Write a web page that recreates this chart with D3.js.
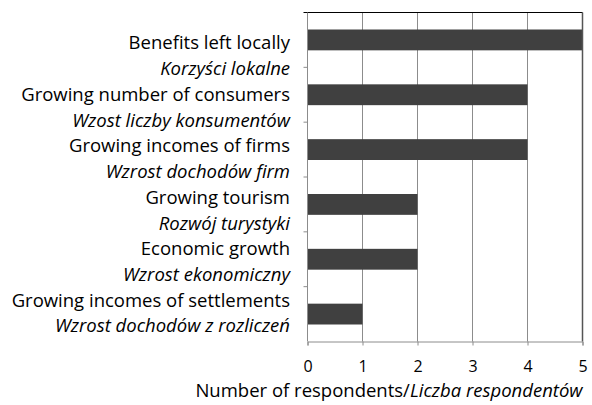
<!DOCTYPE html>
<html>
<head>
<meta charset="utf-8">
<script src="https://cdn.jsdelivr.net/npm/d3@7"></script>
<style>
  body { margin: 0; background: #fff; }
  svg text { font-family: "Open Sans", Lato, sans-serif; fill: #000; }
</style>
</head>
<body>
<div id="chart"></div>
<script>
// data
const categoriesEn = [
  "Benefits left locally",
  "Growing number of consumers",
  "Growing incomes of firms",
  "Growing tourism",
  "Economic growth",
  "Growing incomes of settlements"
];
const categoriesPl = [
  "Korzyści lokalne",
  "Wzost liczby konsumentów",
  "Wzrost dochodów firm",
  "Rozwój turystyki",
  "Wzrost ekonomiczny",
  "Wzrost dochodów z rozliczeń"
];
const values = [5, 4, 4, 2, 2, 1];
const xTicks = [0, 1, 2, 3, 4, 5];

const width = 592, height = 405;
const margin = { top: 12.5, right: 9.5, bottom: 63.5, left: 307.5 };
const w = width - margin.left - margin.right;
const h = height - margin.top - margin.bottom;

const svg = d3.select("#chart").append("svg")
  .attr("width", width)
  .attr("height", height);

const g = svg.append("g")
  .attr("transform", "translate(" + margin.left + "," + margin.top + ")");

const x = d3.scaleLinear().domain([0, 5]).range([0, w]);
const y = d3.scaleBand().domain(categoriesEn).range([0, h]).paddingInner(0.62).paddingOuter(0.31);
// full slots, for the little tick marks on the left axis
const ySlot = d3.scaleBand().domain(categoriesEn).range([0, h]);

// vertical gridlines
g.selectAll(".grid")
  .data(xTicks.slice(1))
  .enter().append("line")
  .attr("x1", d => x(d)).attr("x2", d => x(d))
  .attr("y1", 0).attr("y2", h)
  .attr("stroke", "#8c8c8c")
  .attr("stroke-width", 1);

// bars
g.selectAll(".bar")
  .data(values)
  .enter().append("rect")
  .attr("x", 0)
  .attr("y", (d, i) => y(categoriesEn[i]))
  .attr("width", d => x(d))
  .attr("height", y.bandwidth())
  .attr("fill", "#404040");

// top border
g.append("line")
  .attr("x1", -4).attr("x2", w)
  .attr("y1", 0).attr("y2", 0)
  .attr("stroke", "#000").attr("stroke-width", 1.2);

// right border
g.append("line")
  .attr("x1", w).attr("x2", w)
  .attr("y1", 0).attr("y2", h)
  .attr("stroke", "#555").attr("stroke-width", 1.5);

// left axis with slot ticks
g.append("line")
  .attr("x1", 0).attr("x2", 0)
  .attr("y1", 0).attr("y2", h)
  .attr("stroke", "#8c8c8c");
g.selectAll(".ytick")
  .data(categoriesEn.slice(1))
  .enter().append("line")
  .attr("x1", -4).attr("x2", 0)
  .attr("y1", d => ySlot(d)).attr("y2", d => ySlot(d))
  .attr("stroke", "#8c8c8c");

// bottom axis
const xAxis = g.append("g")
  .attr("transform", "translate(0," + h + ")")
  .call(d3.axisBottom(x).tickValues(xTicks).tickSize(4).tickPadding(15).tickFormat(d3.format("d")));
xAxis.select(".domain").attr("stroke", "#8c8c8c");
xAxis.selectAll(".tick line").attr("stroke", "#8c8c8c");
xAxis.selectAll("text")
  .style("font-size", "16px")
  .style("font-family", "'Open Sans', Lato, sans-serif")
  .attr("fill", "#000");

// category labels: English line + Polish italic line
const lines = [];
categoriesEn.forEach((c, i) => {
  lines.push({ text: c, italic: false, key: "en" + i });
  lines.push({ text: categoriesPl[i], italic: true, key: "pl" + i });
});
const yLine = d3.scalePoint().domain(lines.map(d => d.key)).range([43, 326]);

svg.selectAll(".lbl")
  .data(lines)
  .enter().append("text")
  .attr("x", 290)
  .attr("y", d => yLine(d.key))
  .attr("dy", "0.35em")
  .attr("text-anchor", "end")
  .style("font-size", "18.5px")
  .style("font-style", d => d.italic ? "italic" : "normal")
  .text(d => d.text);

// x axis title (top of it is cut off in the original)
svg.append("clipPath").attr("id", "titleclip")
  .append("rect").attr("x", 0).attr("y", 383).attr("width", width).attr("height", 30);

const title = svg.append("text")
  .attr("clip-path", "url(#titleclip)")
  .attr("x", 389)
  .attr("y", 391)
  .attr("dy", "0.35em")
  .attr("text-anchor", "middle")
  .style("font-size", "18.5px");
title.append("tspan").text("Number of respondents/");
title.append("tspan").style("font-style", "italic").text("Liczba respondentów");
</script>
</body>
</html>
